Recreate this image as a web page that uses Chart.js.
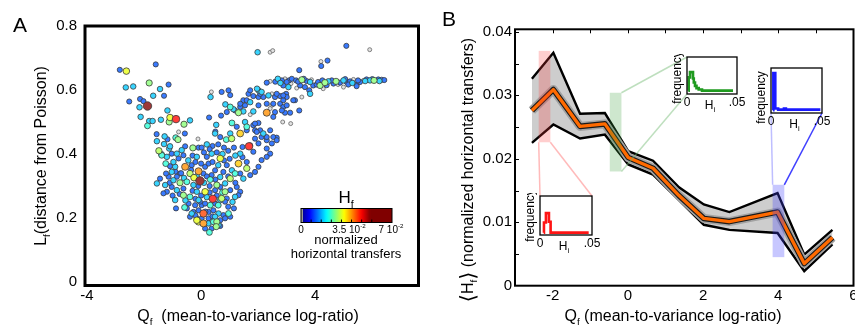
<!DOCTYPE html>
<html>
<head>
<meta charset="utf-8">
<script src="https://cdn.jsdelivr.net/npm/chart.js@4.4.1/dist/chart.umd.min.js"></script>
<style>
  body { margin: 0; background: #fff; }
  #wrap { position: relative; width: 855px; height: 329px; overflow: hidden; background: #fff; }
  canvas { position: absolute; }
</style>
</head>
<body>
<div id="wrap">
  <canvas id="chartA" width="425" height="329" style="left:0;top:0"></canvas>
  <canvas id="chartB" width="430" height="329" style="left:425px;top:0"></canvas>
</div>
<script>
// ---------- Panel A: gene families (Q_f, L_f, H_f) ----------
const scatterQ = [
  -2.85,-2.62,-1.59,-2.64,-2.38,-1.82,-1.44,-1.14,-2.52,-1.68,
  -1.30,-2.14,-2.02,-1.88,-2.16,-1.18,-2.12,-1.82,-1.70,-1.88,
  -1.41,-1.09,-0.88,-1.12,-0.60,-0.39,0.28,0.36,0.33,-1.56,
  -1.28,-0.79,-0.57,-0.11,-1.55,-1.18,-0.89,-0.81,-1.30,-1.12,
  -1.48,-1.39,-0.29,-0.56,1.98,2.42,2.51,5.09,5.91,4.20,
  4.43,4.21,3.44,2.30,2.42,2.69,2.83,2.94,3.08,3.18,
  3.33,3.53,3.70,3.82,3.93,4.05,4.17,4.34,4.46,4.64,
  4.73,4.87,4.99,5.10,5.22,5.34,5.45,5.57,5.69,5.80,
  5.92,6.06,6.21,6.33,3.06,2.88,3.35,3.47,3.64,3.79,
  3.82,3.53,3.29,3.44,4.28,4.99,5.16,5.45,2.60,2.78,
  3.00,3.15,3.40,3.60,3.87,4.10,4.25,4.40,4.58,4.80,
  5.05,5.30,5.50,5.75,6.00,6.25,6.42,0.72,0.96,1.02,
  2.01,2.12,1.66,1.83,2.01,2.18,2.36,2.48,2.59,2.77,
  2.98,3.00,1.48,1.72,1.54,1.02,1.19,1.31,1.48,0.90,
  1.37,1.83,1.72,2.01,2.48,2.77,2.88,2.94,3.12,2.30,
  1.54,1.60,1.83,2.01,2.07,1.89,2.18,2.42,2.12,2.30,
  2.65,1.89,1.72,1.68,1.37,2.53,2.59,2.83,2.86,3.14,
  2.42,2.53,2.30,3.23,2.88,3.00,1.72,1.96,2.07,1.60,
  1.37,2.65,2.88,0.53,1.08,1.13,0.85,0.70,0.50,-1.09,
  -0.09,0.49,0.67,0.88,1.02,1.07,1.25,1.60,1.89,1.95,
  2.30,2.53,1.45,1.37,1.83,2.01,2.30,2.42,-1.38,-1.20,
  -1.03,-0.85,-0.68,-0.62,-0.79,-0.56,-0.09,-0.04,-0.39,-0.25,
  0.67,0.20,0.37,1.31,1.60,1.08,0.90,1.19,1.37,1.48,
  1.72,1.89,2.01,2.12,2.30,2.48,2.65,1.02,0.84,0.67,
  0.49,0.84,1.02,1.25,1.37,0.14,0.41,0.55,0.32,0.37,
  0.49,0.67,0.78,0.14,0.08,0.26,-0.74,-0.97,-1.14,-1.26,
  -1.03,-0.85,-0.62,-0.50,-0.27,-0.91,-1.20,-1.32,-1.44,-1.55,
  -0.62,-0.39,-0.15,-0.09,-0.44,0.02,0.32,0.67,0.90,-1.24,
  -1.09,-0.91,-0.74,-1.23,-1.03,-0.85,-0.97,-0.33,-0.15,-0.88,
  -0.58,-0.21,-0.04,0.14,0.49,0.84,1.19,1.31,0.72,-0.27,
  -0.09,0.08,0.26,0.43,0.61,0.78,0.96,-0.39,-0.15,0.02,
  0.26,0.49,0.67,0.84,1.02,-0.09,0.08,-0.15,0.26,0.43,
  0.61,0.55,0.29,0.53,0.14,0.37,0.67,-0.50,-0.33,-0.20,
  1.15,0.95,1.10,0.02,0.20,0.40,0.60,0.80,0.10,0.30,
  0.55,0.75,0.95,1.15,-0.30,-0.45,-0.20,0.00,0.40,0.60,
  0.80,1.00,1.20,1.45,1.60,-0.35,-0.15,0.20,0.50,0.95,
  1.20,0.30,0.10,-0.10,-0.30,0.00,0.20,0.55,0.75,-0.20,
  0.15,0.40,0.30,0.60,-0.70,-0.90,-0.60,-1.10,-0.75,-0.55,-1.00
];
const scatterL = [
  .663,.659,.680,.608,.611,.622,.603,.617,.564,.582,
  .582,.572,.565,.550,.546,.536,.516,.503,.503,.488,
  .507,.514,.509,.500,.493,.505,.514,.594,.578,.462,
  .455,.469,.464,.447,.440,.446,.451,.445,.431,.417,
  .410,.399,.419,.424,.718,.718,.723,.738,.726,.689,
  .692,.675,.662,.623,.627,.635,.630,.635,.630,.635,
  .630,.632,.628,.625,.614,.617,.614,.623,.627,.620,
  .627,.623,.630,.625,.627,.633,.617,.625,.630,.633,
  .630,.630,.633,.632,.609,.614,.606,.614,.609,.599,
  .588,.578,.568,.536,.604,.609,.617,.612,.626,.622,
  .625,.620,.626,.635,.632,.625,.630,.615,.630,.617,
  .634,.622,.630,.628,.634,.628,.631,.594,.599,.584,
  .599,.594,.588,.581,.578,.578,.583,.588,.578,.581,
  .588,.578,.568,.562,.552,.547,.536,.529,.533,.531,
  .547,.533,.523,.552,.552,.557,.547,.529,.529,.529,
  .500,.485,.490,.497,.474,.474,.464,.474,.453,.443,
  .451,.448,.427,.424,.464,.516,.531,.536,.500,.495,
  .542,.557,.557,.568,.568,.552,.599,.604,.588,.568,
  .557,.588,.583,.491,.497,.540,.555,.520,.470,.424,
  .420,.464,.453,.445,.464,.448,.485,.474,.495,.469,
  .453,.453,.422,.401,.407,.433,.417,.401,.396,.391,
  .401,.401,.412,.396,.386,.360,.346,.316,.339,.326,
  .386,.391,.401,.370,.355,.349,.365,.339,.339,.323,
  .334,.344,.360,.381,.391,.433,.443,.323,.308,.297,
  .287,.282,.287,.297,.282,.282,.260,.303,.320,.334,
  .349,.328,.344,.360,.339,.370,.310,.318,.329,.303,
  .297,.287,.292,.313,.303,.256,.282,.277,.323,.308,
  .271,.266,.282,.256,.245,.240,.240,.256,.261,.370,
  .362,.360,.339,.339,.344,.329,.375,.365,.391,.230,
  .233,.240,.251,.245,.245,.251,.266,.271,.261,.219,
  .224,.214,.219,.224,.214,.209,.214,.204,.199,.199,
  .199,.204,.193,.199,.204,.188,.183,.193,.183,.188,
  .178,.188,.155,.173,.167,.167,.175,.230,.214,.208,
  .230,.235,.250,.420,.430,.425,.430,.420,.405,.415,
  .405,.400,.410,.420,.395,.380,.375,.370,.375,.365,
  .380,.385,.395,.390,.375,.350,.330,.330,.320,.330,
  .310,.300,.310,.300,.285,.270,.265,.270,.280,.260,
  .220,.205,.280,.240,.340,.345,.325,.310,.275,.255,.270
];
const scatterH = [
  .011,.032,.011,.017,.017,.027,.017,.011,.011,.017,
  .011,.011,.011,.060,.017,.017,.017,.017,.017,.022,
  .017,.032,.046,.027,.027,.017,.011,0,.017,.011,
  .017,0,.011,0,.017,.011,.022,.027,.017,.017,
  .029,.022,.027,.011,.017,0,0,.011,0,0,
  .011,.011,.011,.011,0,.017,.011,0,.011,.011,
  .011,.027,.011,.017,.011,.011,.027,.027,.017,.011,
  .027,.011,.017,.011,.011,0,.011,.011,0,.011,
  .017,.027,.011,.011,.017,.011,0,.011,.011,.011,
  .017,0,.011,.011,0,0,.011,.011,.011,.017,
  .011,0,.011,.011,0,.011,.011,.011,.011,0,
  .011,.017,.011,.017,.011,.017,.011,.011,.011,.011,
  .017,.017,.011,.011,.011,.011,.017,0,.011,.011,
  .011,.011,.011,.017,.011,.022,.011,.027,.017,.011,
  .011,.017,0,.011,0,.011,.011,.011,.011,.039,
  .017,.022,.011,.011,.011,.011,.017,.011,.011,.011,
  .011,.011,.011,.046,.036,.011,.011,.011,0,0,
  0,.011,.011,.011,.011,.011,.011,.017,.011,.011,
  .011,.011,.011,.017,.022,.017,.017,.011,.011,.017,
  .011,.017,.011,.022,.017,.029,.011,.011,.011,.011,
  .011,.011,.011,.017,.011,.011,.011,.011,.022,.017,
  .011,.017,.017,.011,.011,.039,.039,.060,.029,.032,
  .032,.011,.017,.036,.029,.017,.011,.022,.011,.017,
  .011,.011,.011,.011,.011,.011,.011,.029,.017,.011,
  .011,.027,.011,.011,.011,.032,.046,.027,.022,.011,
  .011,.017,.011,.011,.011,.011,.027,.017,.011,.017,
  .011,.017,.011,.022,.017,.017,.011,.011,.011,.017,
  .027,.022,.017,.017,.011,.011,.022,.017,.011,.022,
  .011,.017,.011,.011,.017,.011,.017,.011,.017,.011,
  .022,.011,.011,.011,.011,.011,.017,.011,.029,.011,
  .011,.043,.011,.011,.017,.011,.022,.011,.011,.011,
  .011,.017,.011,.011,.011,.032,.039,.032,.017,.022,
  .017,.027,.022,.027,.011,.011,.011,.011,.017,.011,
  .011,.011,.017,.011,.017,.011,.011,.011,.011,.011,
  .011,.017,.011,.011,.011,.017,.011,.011,.011,.017,
  .011,.011,.017,.011,.011,.011,.017,.011,.011,.011,
  .011,.011,.017,.011,.011,.011,.017,.011,.022,.011,
  .011,.011,.011,.022,.011,.011,.017,.011,.011,.017,.011
];
const colorbarMax = 0.07;     // right end of the H_f colour bar
const jetTop = 0.053;         // H_f where the colour map reaches dark red

// ---------- Panel B: binned <H_f> vs Q_f ----------
const binQ   = [-2.55, -1.98, -1.27, -0.61, 0.01, 0.67, 1.36, 2.02, 2.70, 3.98, 4.69, 5.44];
const meanH  = [0.0276, 0.0309, 0.0251, 0.0255, 0.0202, 0.0185, 0.0142, 0.0106, 0.0101, 0.0116, 0.0035, 0.0076];
const upperH = [0.0326, 0.0367, 0.0271, 0.0272, 0.0212, 0.0197, 0.0155, 0.0128, 0.0116, 0.0146, 0.0049, 0.0088];
const lowerH = [0.0225, 0.0254, 0.0232, 0.0238, 0.0191, 0.0175, 0.0135, 0.0096, 0.0088, 0.0083, 0.0023, 0.0065];

// highlighted bins (red, green, blue)
const bandQLo = [-2.37, -0.48, 3.85];
const bandQHi = [-2.06, -0.17, 4.16];
const bandHLo = [0.0226, 0.0180, 0.0045];
const bandHHi = [0.0370, 0.0304, 0.0159];

// inset histograms of H_i (step edges, relative frequency)
const redH   = [0.0036, 0.0038, 0.0057, 0.0086, 0.0102, 0.0468];
const redF   = [0.06, 0.32, 0.56, 0.34, 0.06, 0.06];
const greenH = [0.0013, 0.0017, 0.0030, 0.0060, 0.0068, 0.0080, 0.0095, 0.0117, 0.0150, 0.0460];
const greenF = [0.09, 0.45, 0.59, 0.42, 0.31, 0.22, 0.16, 0.12, 0.09, 0.09];
const blueH  = [0.0020, 0.0023, 0.0042, 0.0070, 0.0127, 0.0146, 0.0484];
const blueF  = [0.06, 0.89, 0.10, 0.075, 0.10, 0.075, 0.075];

const FONT = '"Liberation Sans", Arial, "DejaVu Sans", sans-serif';
Chart.defaults.font.family = FONT;
Chart.defaults.color = '#000';

// jet colour map
function jet(t) {
  const c = v => Math.max(0, Math.min(1, v));
  return [c(1.5 - Math.abs(4 * t - 3)), c(1.5 - Math.abs(4 * t - 2)), c(1.5 - Math.abs(4 * t - 1))];
}
function colorFor(h, soften) {
  if (h <= 0) return '#e2e2e2';
  const rgb = jet(Math.min(h / jetTop, 1));
  const m = soften ? 0.22 : 0;
  const v = rgb.map(x => Math.round(255 * (x * (1 - m) + m)));
  return 'rgb(' + v.join(',') + ')';
}
function radiusFor(h) {
  return h <= 0 ? 2.0 : 2.2 + h * 34;
}

// text with sub/superscripts, centred on (x, y)
function drawRich(ctx, parts, x, y, size, rotate) {
  ctx.save();
  ctx.translate(x, y);
  if (rotate) ctx.rotate(-Math.PI / 2);
  ctx.fillStyle = '#000';
  ctx.textAlign = 'left';
  ctx.textBaseline = 'alphabetic';
  const fontOf = p => (p.s ? size * 0.62 : size * (p.k || 1)) + 'px ' + FONT;
  const widths = parts.map(p => { ctx.font = fontOf(p); return ctx.measureText(p.t).width; });
  let cx = -widths.reduce((a, b) => a + b, 0) / 2;
  parts.forEach((p, i) => {
    ctx.font = fontOf(p);
    let dy = size * 0.36;
    if (p.s === 'sub') dy += size * 0.26;
    if (p.s === 'sup') dy -= size * 0.42;
    if (p.k) dy += size * (p.k - 1) * 0.3;
    ctx.fillText(p.t, cx, dy);
    cx += widths[i];
  });
  ctx.restore();
}

function fixedTicks(values) {
  return scale => { scale.ticks = values.map(v => ({ value: v })); };
}

// ---------- Chart A ----------
const scatterPts = scatterQ.map((q, i) => ({ x: q, y: scatterL[i], h: scatterH[i] }))
  .sort((a, b) => a.h - b.h);

const panelADecor = {
  id: 'panelADecor',
  afterDraw(chart) {
    const ctx = chart.ctx, a = chart.chartArea;
    ctx.save();
    ctx.strokeStyle = '#000';
    ctx.lineWidth = 3;
    ctx.strokeRect(a.left, a.top, a.right - a.left, a.bottom - a.top);

    // colour bar
    const x0 = 301, x1 = 392, y0 = 208.5, y1 = 222.5;
    const g = ctx.createLinearGradient(x0, 0, x1, 0);
    for (let i = 0; i <= 40; i++) {
      const t = i / 40;
      g.addColorStop(t, colorFor(Math.max(t * colorbarMax, 0.0001), false));
    }
    ctx.fillStyle = g;
    ctx.fillRect(x0, y0, x1 - x0, y1 - y0);
    ctx.fillStyle = '#9a9a9a';
    ctx.fillRect(x0, y0, 2, y1 - y0);
    ctx.lineWidth = 1;
    ctx.strokeStyle = '#000';
    ctx.strokeRect(x0, y0, x1 - x0, y1 - y0);
    ctx.beginPath();
    for (let k = 1; k <= 7; k++) {
      const px = x0 + (x1 - x0) * k / 9;
      ctx.moveTo(px, y1); ctx.lineTo(px, y1 - 3);
    }
    ctx.stroke();
    ctx.restore();

    drawRich(ctx, [{ t: 'H' }, { t: 'f', s: 'sub' }], 346, 197, 17);
    drawRich(ctx, [{ t: '0' }], 301, 229, 10);
    drawRich(ctx, [{ t: '3.5 10' }, { t: '-2', s: 'sup' }], 349, 229, 10);
    drawRich(ctx, [{ t: '7 10' }, { t: '-2', s: 'sup' }], 391, 229, 10);
    drawRich(ctx, [{ t: 'normalized' }], 346, 239.5, 13);
    drawRich(ctx, [{ t: 'horizontal transfers' }], 346, 253.5, 13);

    // axis titles and panel letter
    drawRich(ctx, [{ t: 'L' }, { t: 'f', s: 'sub' }, { t: '(distance from Poisson)' }], 40, 156, 16, true);
    drawRich(ctx, [{ t: 'Q' }, { t: 'f', s: 'sub' }, { t: '  (mean-to-variance log-ratio)' }], 248, 315, 16);
    drawRich(ctx, [{ t: 'A' }], 20, 24, 21);
  }
};

new Chart(document.getElementById('chartA'), {
  type: 'scatter',
  data: {
    datasets: [{
      data: scatterPts,
      pointRadius: c => radiusFor(c.raw.h),
      pointBackgroundColor: c => colorFor(c.raw.h, true),
      pointBorderColor: c => c.raw.h > 0 ? '#3a3a3a' : '#666',
      pointBorderWidth: 0.8
    }]
  },
  options: {
    responsive: false,
    animation: false,
    events: [],
    layout: { padding: { left: 0, right: 6.5, top: 26, bottom: 0 } },
    plugins: { legend: { display: false }, tooltip: { enabled: false } },
    scales: {
      x: {
        type: 'linear', min: -4.07, max: 7.62,
        grid: { display: false, drawTicks: false }, border: { display: false },
        afterBuildTicks: fixedTicks([-4, 0, 4]),
        ticks: { font: { size: 15 }, color: '#000', padding: 1, maxRotation: 0, autoSkip: false, callback: v => String(v) },
        afterFit: s => { s.height = 43.5; s.paddingLeft = 0; s.paddingRight = 0; }
      },
      y: {
        type: 'linear', min: -0.011, max: 0.8,
        grid: { display: false, drawTicks: false }, border: { display: false },
        afterBuildTicks: fixedTicks([0, 0.2, 0.4, 0.6, 0.8]),
        ticks: { font: { size: 15 }, color: '#000', padding: 8, autoSkip: false, callback: v => v === 0 ? '0' : v.toFixed(1) },
        afterFit: s => { s.width = 85; s.paddingTop = 0; s.paddingBottom = 0; }
      }
    }
  },
  plugins: [panelADecor]
});

// ---------- Insets ----------
const insetSpecs = [
  { hs: redH, fs: redF, color: '#ff1414', frame: [540, 196, 52, 39], freqShift: 0 },
  { hs: greenH, fs: greenF, color: '#1f9a1f', frame: [687, 57, 50, 37], freqShift: 2 },
  { hs: blueH, fs: blueF, color: '#1a1aff', frame: [771, 68, 51, 45], freqShift: 7 }
];
const insetPad = { left: 24, right: 14, top: 3, bottom: 22 };

const insetDecor = {
  id: 'insetDecor',
  beforeDraw(chart) {
    const a = chart.chartArea;
    chart.ctx.fillStyle = '#fff';
    chart.ctx.fillRect(a.left, a.top, a.right - a.left, a.bottom - a.top);
  },
  afterDraw(chart) {
    const ctx = chart.ctx, a = chart.chartArea, xs = chart.scales.x;
    const spec = chart.options.plugins.insetDecor;
    ctx.save();
    ctx.strokeStyle = '#000';
    ctx.lineWidth = 1.3;
    ctx.strokeRect(a.left, a.top, a.right - a.left, a.bottom - a.top);
    ctx.restore();
    drawRich(ctx, [{ t: '0' }], xs.getPixelForValue(0), a.bottom + 7.5, 12);
    drawRich(ctx, [{ t: '.05' }], xs.getPixelForValue(0.05), a.bottom + 7.5, 12);
    drawRich(ctx, [{ t: 'H' }, { t: 'i', s: 'sub' }], (a.left + a.right) / 2 - 2, a.bottom + 11, 12);
    drawRich(ctx, [{ t: 'frequency' }], a.left - 10.5, (a.top + a.bottom) / 2 + spec.freqShift, 12, true);
  }
};

const wrap = document.getElementById('wrap');
const insetCharts = insetSpecs.map(spec => {
  const [fx, fy, fw, fh] = spec.frame;
  const cv = document.createElement('canvas');
  cv.width = fw + insetPad.left + insetPad.right;
  cv.height = fh + insetPad.top + insetPad.bottom;
  cv.style.left = (fx - insetPad.left) + 'px';
  cv.style.top = (fy - insetPad.top) + 'px';
  wrap.appendChild(cv);
  return new Chart(cv, {
    type: 'line',
    data: {
      datasets: [{
        data: spec.hs.map((h, i) => ({ x: h, y: spec.fs[i] })),
        stepped: true,
        borderColor: spec.color,
        borderWidth: 2.6,
        pointRadius: 0,
        fill: false
      }]
    },
    options: {
      responsive: false,
      animation: false,
      events: [],
      layout: { padding: insetPad },
      plugins: { legend: { display: false }, tooltip: { enabled: false }, insetDecor: { freqShift: spec.freqShift } },
      scales: {
        x: { type: 'linear', min: 0, max: 0.05, display: false },
        y: { type: 'linear', min: 0, max: 1, display: false }
      }
    },
    plugins: [insetDecor]
  });
});

// ---------- Chart B ----------
const canvasB = document.getElementById('chartB');
function insetCorner(i, corner) {
  const ch = insetCharts[i], a = ch.chartArea;
  const ox = ch.canvas.offsetLeft - canvasB.offsetLeft, oy = ch.canvas.offsetTop - canvasB.offsetTop;
  const x = corner[1] === 'l' ? a.left : a.right;
  const y = corner[0] === 't' ? a.top : a.bottom;
  return [x + ox, y + oy];
}

const bandFill = ['rgba(255,60,60,0.25)', 'rgba(60,160,60,0.25)', 'rgba(70,70,255,0.3)'];
// which band corner joins which inset corner, and the line colour
const bandLinks = [
  [['lo', 'lo', 'tl', 'rgba(255,140,140,0.6)'], ['hi', 'lo', 'tr', 'rgba(255,140,140,0.6)']],
  [['hi', 'hi', 'tl', 'rgba(110,185,110,0.45)'], ['hi', 'lo', 'bl', 'rgba(110,185,110,0.45)']],
  [['lo', 'hi', 'bl', 'rgba(110,110,255,0.45)'], ['hi', 'hi', 'br', 'rgba(30,30,255,0.85)']]
];

const panelBDecor = {
  id: 'panelBDecor',
  afterDatasetsDraw(chart) {
    const ctx = chart.ctx, xs = chart.scales.x, ys = chart.scales.y;
    ctx.save();
    for (let i = 0; i < bandQLo.length; i++) {
      const xl = xs.getPixelForValue(bandQLo[i]), xr = xs.getPixelForValue(bandQHi[i]);
      const yt = ys.getPixelForValue(bandHHi[i]), yb = ys.getPixelForValue(bandHLo[i]);
      ctx.fillStyle = bandFill[i];
      ctx.fillRect(xl, yt, xr - xl, yb - yt);
      bandLinks[i].forEach(([qk, hk, corner, col]) => {
        const px = xs.getPixelForValue(qk === 'lo' ? bandQLo[i] : bandQHi[i]);
        const py = ys.getPixelForValue(hk === 'lo' ? bandHLo[i] : bandHHi[i]);
        const [tx, ty] = insetCorner(i, corner);
        ctx.strokeStyle = col;
        ctx.lineWidth = 1.5;
        ctx.beginPath(); ctx.moveTo(px, py); ctx.lineTo(tx, ty); ctx.stroke();
      });
    }
    ctx.restore();
  },
  afterDraw(chart) {
    const ctx = chart.ctx, a = chart.chartArea, xs = chart.scales.x, ys = chart.scales.y;
    ctx.save();
    ctx.strokeStyle = '#000';
    ctx.lineWidth = 2;
    ctx.strokeRect(a.left, a.top, a.right - a.left, a.bottom - a.top);
    ctx.lineWidth = 1;
    ctx.beginPath();
    for (let v = 0.005; v < 0.0401; v += 0.005) {
      const py = Math.round(ys.getPixelForValue(v)) + 0.5;
      ctx.moveTo(a.left, py); ctx.lineTo(a.left + 4, py);
    }
    for (let q = -2; q <= 5; q++) {
      const px = Math.round(xs.getPixelForValue(q)) + 0.5;
      ctx.moveTo(px, a.top); ctx.lineTo(px, a.top + 4);
    }
    ctx.stroke();
    ctx.restore();

    drawRich(ctx, [{ t: '\u27E8', k: 1.3 }, { t: 'H' }, { t: 'f', s: 'sub' }, { t: '\u27E9', k: 1.3 }, { t: ' (normalized horizontal transfers)' }], 42.5, 170, 16, true);
    drawRich(ctx, [{ t: 'Q' }, { t: 'f', s: 'sub' }, { t: ' (mean-to-variance log-ratio)' }], 248, 315, 16);
    drawRich(ctx, [{ t: 'B' }], 24, 18, 21);
  }
};

const pts = arr => binQ.map((q, i) => ({ x: q, y: arr[i] }));

new Chart(canvasB, {
  type: 'line',
  data: {
    datasets: [
      { data: pts(meanH), borderColor: '#ff6a00', borderWidth: 3.4, pointRadius: 0, fill: false, borderJoinStyle: 'round' },
      { data: pts(meanH), borderColor: '#1a1a1a', borderWidth: 5.6, pointRadius: 0, fill: false, borderJoinStyle: 'round' },
      { data: pts(meanH), borderColor: '#a2a2a2', borderWidth: 9, pointRadius: 0, fill: false, borderJoinStyle: 'round' },
      { data: pts(upperH), borderColor: '#000', borderWidth: 2.4, pointRadius: 0, fill: 4, backgroundColor: '#cdcdcd' },
      { data: pts(lowerH), borderColor: '#000', borderWidth: 2.4, pointRadius: 0, fill: false }
    ]
  },
  options: {
    responsive: false,
    animation: false,
    events: [],
    layout: { padding: { left: 0, right: 1.5, top: 29.3, bottom: 0 } },
    plugins: { legend: { display: false }, tooltip: { enabled: false }, filler: { drawTime: 'beforeDatasetsDraw' } },
    scales: {
      x: {
        type: 'linear', min: -3, max: 6,
        grid: { display: false, drawTicks: false }, border: { display: false },
        afterBuildTicks: fixedTicks([-2, 0, 2, 4, 6]),
        ticks: { font: { size: 15 }, color: '#000', padding: 1, maxRotation: 0, autoSkip: false, callback: v => String(v) },
        afterFit: s => { s.height = 43.3; s.paddingLeft = 0; s.paddingRight = 0; }
      },
      y: {
        type: 'linear', min: 0, max: 0.0404,
        grid: { display: false, drawTicks: false }, border: { display: false },
        afterBuildTicks: fixedTicks([0, 0.01, 0.02, 0.03, 0.04]),
        ticks: { font: { size: 15 }, color: '#000', padding: 3, autoSkip: false, callback: v => String(v) },
        afterFit: s => { s.width = 90; s.paddingTop = 0; s.paddingBottom = 0; }
      }
    }
  },
  plugins: [panelBDecor]
});
</script>
</body>
</html>
